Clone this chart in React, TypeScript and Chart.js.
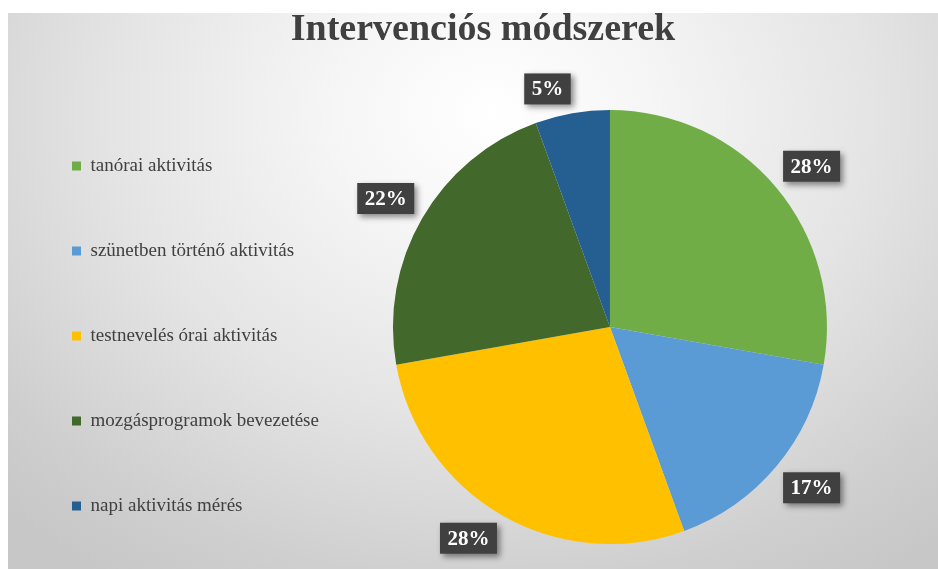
import React, { useEffect, useRef } from 'react';
import { Chart, registerables } from 'chart.js';

Chart.register(...registerables);

const chartTitle = 'Intervenciós módszerek';
const categories = [
  'tanórai aktivitás',
  'szünetben történő aktivitás',
  'testnevelés órai aktivitás',
  'mozgásprogramok bevezetése',
  'napi aktivitás mérés',
];
const values = [10, 6, 10, 8, 2];
const percentLabels = ['28%', '17%', '28%', '22%', '5%'];
const sliceColors = ['#70AD47', '#5B9BD5', '#FFC000', '#43682B', '#255E91'];

const layoutTweak = {
  id: 'layoutTweak',
  afterLayout(chart: any) {
    const lg = chart.legend;
    if (lg) {
      const h = lg.bottom - lg.top;
      const c = 323;
      lg.top = c - h / 2;
      lg.bottom = c + h / 2;
    }
    const tb = chart.titleBlock;
    if (tb) {
      const w = tb.right - tb.left;
      const cx = 475;
      tb.left = cx - w / 2;
      tb.right = cx + w / 2;
    }
  },
};

const boxLabels = {
  id: 'boxLabels',
  afterDatasetsDraw(chart: any) {
    const ctx = chart.ctx;
    const meta = chart.getDatasetMeta(0);
    meta.data.forEach((arc: any, i: number) => {
      const { x, y, startAngle, endAngle, outerRadius } = arc.getProps(
        ['x', 'y', 'startAngle', 'endAngle', 'outerRadius'],
        true
      );
      const mid = (startAngle + endAngle) / 2;
      const ux = Math.cos(mid);
      const uy = Math.sin(mid);
      const d = outerRadius + 9;
      const px = x + ux * d;
      const py = y + uy * d;
      const text = percentLabels[i];
      ctx.save();
      ctx.font = 'bold 21px "Liberation Serif"';
      const tw = ctx.measureText(text).width;
      const bw = tw + 15;
      const bh = 31;
      const left = ux >= 0 ? px : px - bw;
      const top = uy >= 0 ? py : py - bh;
      ctx.shadowColor = 'rgba(0,0,0,0.45)';
      ctx.shadowBlur = 6;
      ctx.shadowOffsetX = 3;
      ctx.shadowOffsetY = 3;
      ctx.fillStyle = '#404040';
      ctx.fillRect(left, top, bw, bh);
      ctx.shadowColor = 'transparent';
      ctx.shadowBlur = 0;
      ctx.shadowOffsetX = 0;
      ctx.shadowOffsetY = 0;
      ctx.fillStyle = '#ffffff';
      ctx.textAlign = 'center';
      ctx.textBaseline = 'middle';
      ctx.fillText(text, left + bw / 2, top + bh / 2 + 1);
      ctx.restore();
    });
  },
};

export default function App() {
  const canvasRef = useRef<HTMLCanvasElement | null>(null);

  useEffect(() => {
    if (!canvasRef.current) return;
    const chart = new Chart(canvasRef.current, {
      type: 'pie',
      data: {
        labels: categories,
        datasets: [
          {
            data: values,
            backgroundColor: sliceColors,
            borderWidth: 0,
            hoverOffset: 0,
          },
        ],
      },
      options: {
        responsive: false,
        animation: false,
        layout: { padding: { left: -2, right: 47, top: 0, bottom: 25 } },
        plugins: {
          title: {
            display: true,
            text: chartTitle,
            color: '#404040',
            font: { family: 'Liberation Serif', size: 38, weight: 'bold', lineHeight: 35 / 38 },
            padding: { top: 0, bottom: 62 },
          },
          legend: {
            position: 'left',
            align: 'center',
            fullSize: true,
            labels: {
              boxWidth: 9,
              boxHeight: 9,
              padding: 66,
              color: '#404040',
              font: { family: 'Liberation Serif', size: 19 },
            },
          },
          tooltip: { enabled: false },
        },
      },
      plugins: [layoutTweak, boxLabels],
    });
    return () => chart.destroy();
  }, []);

  return (
    <div
      style={{
        position: 'absolute',
        left: 8,
        top: 13,
        width: 930,
        height: 556,
        background:
          'radial-gradient(ellipse 75% 100% at 52% 18%, #ffffff 0%, #f6f6f6 22%, #e4e4e4 55%, #cfcfcf 85%, #c7c7c7 100%)',
      }}
    >
      <canvas ref={canvasRef} width={930} height={556} style={{ display: 'block' }} />
    </div>
  );
}
